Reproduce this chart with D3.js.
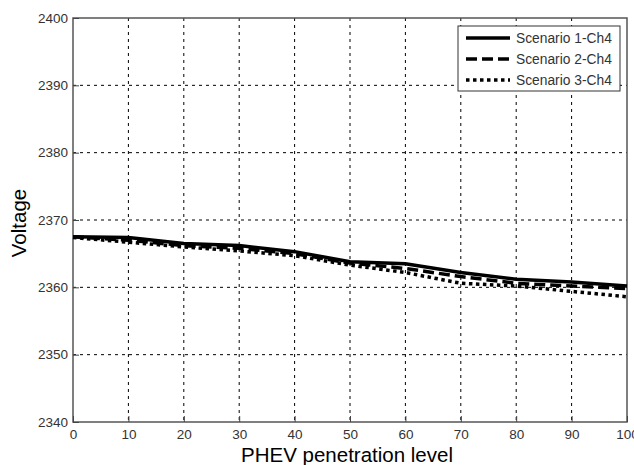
<!DOCTYPE html>
<html>
<head>
<meta charset="utf-8">
<script src="https://cdn.jsdelivr.net/npm/d3@7"></script>
<style>
  body { margin: 0; background: #fff; }
  svg { font-family: "Liberation Sans", Arial, sans-serif; }
</style>
</head>
<body>
<div id="chart"></div>
<script>
const levels = [0, 10, 20, 30, 40, 50, 60, 70, 80, 90, 100];
const scenario1 = [2367.5, 2367.4, 2366.5, 2366.2, 2365.3, 2363.8, 2363.5, 2362.2, 2361.2, 2360.8, 2360.2];
const scenario2 = [2367.5, 2367.0, 2366.2, 2365.8, 2365.0, 2363.6, 2362.8, 2361.6, 2360.6, 2360.2, 2359.8];
const scenario3 = [2367.4, 2366.7, 2366.0, 2365.4, 2364.7, 2363.3, 2362.2, 2360.6, 2360.2, 2359.4, 2358.6];
const seriesNames = ['Scenario 1-Ch4', 'Scenario 2-Ch4', 'Scenario 3-Ch4'];
const xTicks = [0, 10, 20, 30, 40, 50, 60, 70, 80, 90, 100];
const yTicks = [2340, 2350, 2360, 2370, 2380, 2390, 2400];

const margin = { top: 18, right: 7, bottom: 43, left: 73 };
const width = 634 - margin.left - margin.right;
const height = 465 - margin.top - margin.bottom;

const svg = d3.select('#chart')
    .append('svg')
    .attr('width', 634)
    .attr('height', 465);

const chart = svg.append('g')
    .attr('transform', `translate(${margin.left}, ${margin.top})`);

const xScale = d3.scaleLinear().domain([0, 100]).range([0, width]);
const yScale = d3.scaleLinear().domain([2340, 2400]).range([height, 0]);

// grid
chart.append('g')
    .selectAll('line')
    .data(xTicks.slice(1, -1))
    .join('line')
    .attr('x1', d => xScale(d)).attr('x2', d => xScale(d))
    .attr('y1', 0).attr('y2', height)
    .attr('stroke', '#000')
    .attr('stroke-width', 1)
    .attr('stroke-dasharray', '3,4');
chart.append('g')
    .selectAll('line')
    .data(yTicks.slice(1, -1))
    .join('line')
    .attr('y1', d => yScale(d)).attr('y2', d => yScale(d))
    .attr('x1', 0).attr('x2', width)
    .attr('stroke', '#000')
    .attr('stroke-width', 1)
    .attr('stroke-dasharray', '3,4');

// box
chart.append('rect')
    .attr('width', width).attr('height', height)
    .attr('fill', 'none')
    .attr('stroke', '#555')
    .attr('stroke-width', 1.5);

// axes
const xAxis = chart.append('g')
    .attr('transform', `translate(0, ${height})`)
    .call(d3.axisBottom(xScale).tickValues(xTicks).tickSize(-6).tickPadding(7));
const yAxis = chart.append('g')
    .call(d3.axisLeft(yScale).tickValues(yTicks).tickSize(-6).tickPadding(5).tickFormat(d3.format('d')));
[xAxis, yAxis].forEach(a => {
    a.select('.domain').remove();
    a.selectAll('line').attr('stroke', '#444');
    a.selectAll('text').attr('fill', '#333').attr('font-size', 13.5);
});

// lines
const styles = ['none', '11,5', '3.5,3.5'];
const allSeries = [scenario1, scenario2, scenario3];
const line = d3.line()
    .x((d, i) => xScale(levels[i]))
    .y(d => yScale(d));
chart.append('g')
    .selectAll('path')
    .data(allSeries)
    .join('path')
    .attr('d', line)
    .attr('fill', 'none')
    .attr('stroke', '#000')
    .attr('stroke-width', 3.5)
    .attr('stroke-dasharray', (d, i) => styles[i]);

// legend
const legend = chart.append('g')
    .attr('transform', `translate(${458 - margin.left}, ${26 - margin.top})`);
legend.append('rect')
    .attr('width', 162).attr('height', 65)
    .attr('fill', '#fff')
    .attr('stroke', '#333')
    .attr('stroke-width', 1);
seriesNames.forEach((name, i) => {
    const y = 12 + i * 21;
    legend.append('line')
        .attr('x1', 8).attr('x2', 52)
        .attr('y1', y).attr('y2', y)
        .attr('stroke', '#000')
        .attr('stroke-width', 3.5)
        .attr('stroke-dasharray', styles[i]);
    legend.append('text')
        .attr('x', 58).attr('y', y + 5)
        .attr('font-size', 13.8)
        .attr('fill', '#333')
        .text(name);
});

// axis titles
svg.append('text')
    .attr('x', 347)
    .attr('y', 462)
    .attr('text-anchor', 'middle')
    .attr('font-size', 20.5)
    .text('PHEV penetration level');
svg.append('text')
    .attr('transform', `translate(26, ${margin.top + height / 2 + 3}) rotate(-90)`)
    .attr('text-anchor', 'middle')
    .attr('font-size', 20.5)
    .text('Voltage');
</script>
</body>
</html>
